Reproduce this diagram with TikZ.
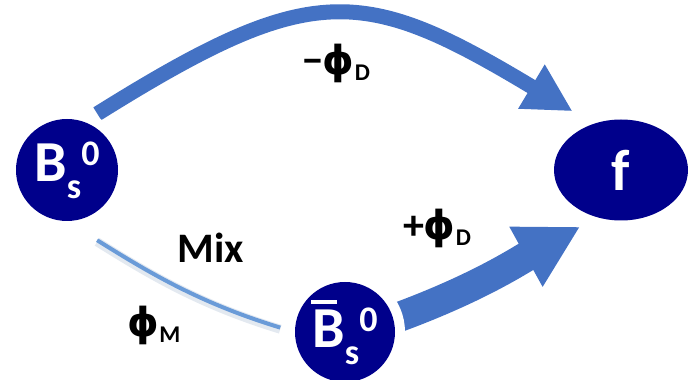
\documentclass[tikz,border=0pt]{standalone}
\usepackage{fontspec}
\setmainfont{Carlito}
\newfontfamily\greekfont{DejaVu Sans}
\usetikzlibrary{arrows.meta,shapes.geometric,backgrounds}

\newcommand\barB{\setbox0\hbox{B}\rlap{\kern-0.5pt\rule[\dimexpr\ht0+3pt\relax]{0.8\wd0}{2pt}}B}
\newcommand\meson[1]{#1\raisebox{-8.5pt}{\fontsize{18}{18}\selectfont s}\raisebox{8pt}{\fontsize{18}{18}\selectfont 0}}
\newcommand\low[1]{\raisebox{-3pt}{\fontsize{12}{12}\selectfont #1}}
\newcommand\phase{{\greekfont\fontsize{20}{20}\selectfont ϕ}}

\begin{document}
\begin{tikzpicture}[x=0.5pt, y=0.5pt,
    meson/.style={circle, fill=nodeBlue, minimum size=51pt, inner sep=0pt,
        text=white, font=\fontsize{29}{29}\selectfont\bfseries,
        preaction={draw=white, line width=10pt}},
    phaselabel/.style={inner sep=0pt, font=\fontsize{21}{21}\selectfont\bfseries}]

    \definecolor{nodeBlue}{HTML}{00008B}
    \definecolor{arrowBlue}{HTML}{4472C4}
    \definecolor{mixBlue}{HTML}{6A9BD8}

    \useasboundingbox (0,0) rectangle (692,380);

    % Draw the states
    \node[meson] (bs) at (67,210) {\meson{B}};
    \node[meson, minimum size=50pt] (bbar) at (345,48) {\meson{\barB}};
    \node[meson, ellipse, minimum width=67pt, minimum height=50.5pt] (f) at (621,210) {f};

    % Label the phases
    \node[phaselabel] (minusD) at (336,317) {−\phase\low{D}};
    \node[phaselabel] (plusD) at (437,152) {+\phase\low{D}};
    \node[phaselabel] (mix) at (211,132) {Mix};
    \node[phaselabel] (phiM) at (154,55) {\phase\low{M}};

    \begin{scope}[on background layer]
        % Direct decay and decay after mixing
        \draw[arrowBlue, line width=7.5pt, -{Triangle[length=24pt,width=24pt]},
            shorten <=7.5pt, shorten >=12pt]
            (bs.70) to[out=32, in=149, looseness=1.35] (f.121);
        \draw[arrowBlue, line width=15pt, -{Triangle[length=31pt,width=32pt]},
            shorten >=9.5pt]
            (bbar.15) to[out=20, in=209] (f.243);

        % Mixing
        \draw[mixBlue, line width=2pt, shorten <=17.75pt, shorten >=7.5pt,
            preaction={draw=mixBlue!60!gray, opacity=0.2, line width=4.5pt, transform canvas={yshift=-0.8pt}}]
            (bs.south) to[out=-32, in=163] (bbar.west);
    \end{scope}

\end{tikzpicture}
\end{document}
